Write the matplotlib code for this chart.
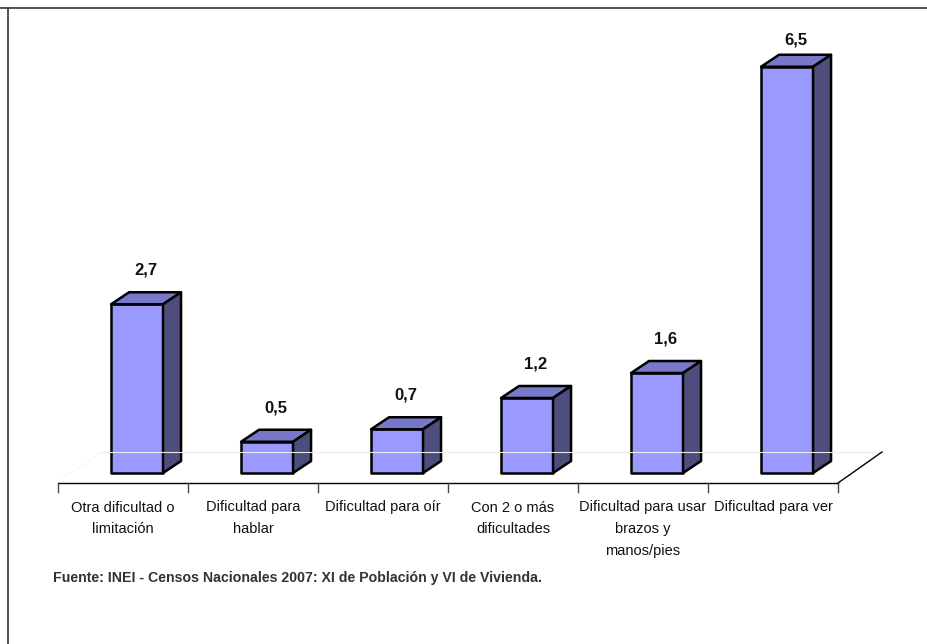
import matplotlib
matplotlib.use('Agg')
import matplotlib.pyplot as plt

# Poblacion con alguna dificultad o limitacion (%)
categories = ['Otra dificultad o\nlimitación',
              'Dificultad para\nhablar',
              'Dificultad para oír',
              'Con 2 o más\ndificultades',
              'Dificultad para usar\nbrazos y\nmanos/pies',
              'Dificultad para ver']
values = [2.7, 0.5, 0.7, 1.2, 1.6, 6.5]
value_labels = ['2,7', '0,5', '0,7', '1,2', '1,6', '6,5']
source = 'Fuente: INEI - Censos Nacionales 2007: XI de Población y VI de Vivienda.'

plt.rcParams['font.family'] = ['Liberation Sans Narrow', 'Liberation Sans', 'DejaVu Sans']

FRONT = '#9999ff'
TOP = '#7878c8'
SIDE = '#4d4d7e'

fig = plt.figure(figsize=(9.27, 6.44), dpi=100)
ax = fig.add_axes([0, 0, 1, 1])
ax.set_xlim(-123 / 130.0, (927 - 123) / 130.0)
ax.set_ylim(-(644 - 473) / 62.5, 473 / 62.5)
ax.axis('off')

# pseudo-3d offsets (category units / value units)
dx = 18 / 130.0
dy = 12 / 62.5
width = 0.4
shift = -0.092
floor_y = -10 / 62.5
fdx = 44 / 130.0
fdy = 31 / 62.5
n = len(categories)

# floor
ax.plot([-0.5 + fdx, n - 0.5 + fdx], [floor_y + fdy] * 2, color='#ececec', lw=0.8)
ax.plot([-0.5 + 0.04, -0.5 + fdx], [floor_y + 0.09, floor_y + fdy], color='#e8e8e8',
        lw=0.8, ls=':')
ax.plot([-0.5, n - 0.5], [floor_y, floor_y], color='black', lw=1.0)
ax.plot([n - 0.5, n - 0.5 + fdx], [floor_y, floor_y + fdy], color='black', lw=1.0)
for k in range(n + 1):
    ax.plot([k - 0.5, k - 0.5], [floor_y, floor_y - 9 / 62.5], color='#444444', lw=1.0)

for i, v in enumerate(values):
    x0 = i + shift
    x1 = x0 + width
    ax.fill([x0, x1, x1, x0], [0, 0, v, v], facecolor=FRONT, edgecolor='black', lw=1.8,
            joinstyle='round')
    ax.fill([x0, x1, x1 + dx, x0 + dx], [v, v, v + dy, v + dy], facecolor=TOP,
            edgecolor='black', lw=1.8, joinstyle='round')
    ax.fill([x1, x1 + dx, x1 + dx, x1], [0, dy, v + dy, v], facecolor=SIDE,
            edgecolor='black', lw=1.8, joinstyle='round')
    ax.text(i + 0.177, min(v + dy + 22 / 62.5, 6.93), value_labels[i], ha='center',
            va='center', fontsize=12, fontweight='bold', color='#111111')
    ax.text(i, -0.44, categories[i], ha='center', va='top', fontsize=10.5,
            linespacing=1.72, color='#111111')

fig.text(53 / 927.0, 1 - 578 / 644.0, source, ha='left', va='center', fontsize=10.2,
         fontweight='bold', color='#333333')

# outer frame (only top/left visible)
ax.plot([8 / 130.0 - 123 / 130.0, 8 / 130.0 - 123 / 130.0], [-5, (473 - 8) / 62.5],
        color='#333333', lw=1.2)
ax.plot([-2, 10], [(473 - 8) / 62.5] * 2, color='#333333', lw=1.2)

fig.savefig('out.png', dpi=100)
